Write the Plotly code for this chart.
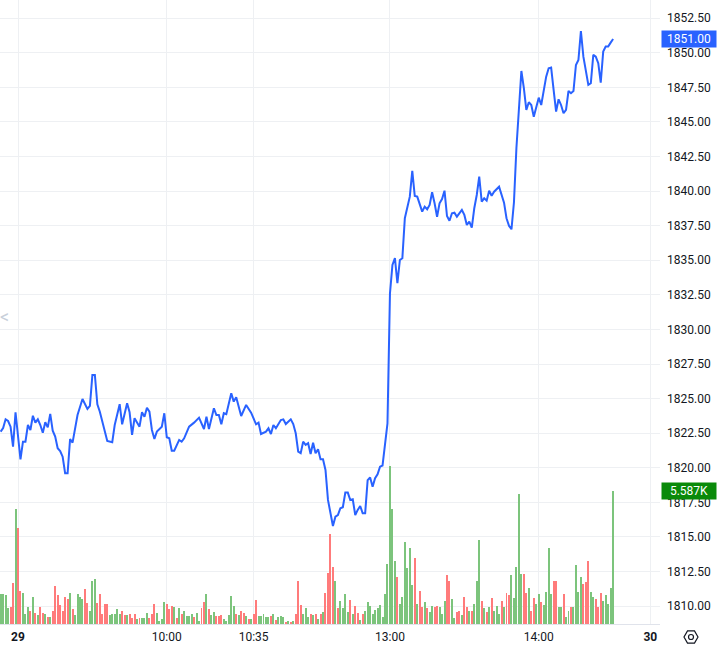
import plotly.graph_objects as go

# 1-minute bars, x = minutes since the 09:00 open of the 29th (lunch gap removed)
price_points = [
    (-7, 1822.61), (-6, 1822.87), (-5, 1823.50), (-4, 1823.38), (-3, 1822.97), (-2, 1821.52),
    (-1, 1824.01), (0, 1822.01), (1, 1820.61), (2, 1821.88), (3, 1821.88), (4, 1823.09),
    (5, 1822.73), (6, 1823.76), (7, 1823.26), (8, 1823.50), (9, 1823.09), (10, 1822.53),
    (11, 1823.29), (12, 1822.92), (13, 1823.89), (14, 1822.68), (15, 1822.25), (16, 1821.41),
    (17, 1821.21), (18, 1820.80), (19, 1819.60), (20, 1819.60), (21, 1822.08), (22, 1821.81),
    (24, 1823.81), (26, 1824.97), (28, 1824.25), (29, 1824.47), (30, 1826.71), (31, 1826.71),
    (32, 1824.59), (33, 1824.05), (34, 1823.38), (36, 1821.93), (38, 1821.84), (39, 1823.09),
    (41, 1824.59), (42, 1823.14), (44, 1824.66), (45, 1824.01), (46, 1822.37), (47, 1823.58),
    (49, 1822.97), (50, 1824.01), (51, 1823.69), (52, 1824.34), (53, 1824.05), (54, 1822.73),
    (55, 1822.08), (56, 1822.61), (58, 1822.97), (59, 1823.94), (60, 1822.20), (61, 1822.13),
    (62, 1821.23), (63, 1821.23), (65, 1822.01), (66, 1821.88), (67, 1822.13), (69, 1822.97),
    (71, 1823.26), (73, 1823.62), (75, 1822.80), (76, 1823.69), (77, 1822.80), (79, 1824.30),
    (80, 1823.81), (81, 1823.81), (82, 1823.14), (83, 1823.94), (84, 1823.87), (85, 1824.70),
    (86, 1825.38), (87, 1824.78), (88, 1825.09), (90, 1823.74), (92, 1824.54), (94, 1823.98),
    (96, 1823.14), (97, 1823.26), (98, 1822.44), (100, 1822.61), (101, 1822.85), (102, 1822.44),
    (103, 1823.09), (104, 1822.85), (106, 1823.45), (107, 1823.50), (108, 1823.16), (110, 1823.50),
    (111, 1823.16), (112, 1822.49), (113, 1821.16), (114, 1821.05), (115, 1821.88), (116, 1821.65),
    (117, 1821.77), (118, 1820.99), (119, 1821.81), (120, 1821.05), (121, 1821.33), (122, 1820.61),
    (123, 1820.61), (124, 1819.84), (125, 1817.67), (127, 1815.79), (128, 1816.46), (129, 1816.58),
    (130, 1817.07), (131, 1817.14), (132, 1818.20), (133, 1818.20), (134, 1817.67), (135, 1817.72),
    (136, 1816.58), (137, 1816.95), (138, 1817.23), (139, 1816.71), (140, 1816.71), (141, 1819.10),
    (142, 1819.30), (143, 1818.63), (144, 1819.24), (145, 1819.53), (146, 1820.08), (147, 1820.16),
    (148, 1821.52), (149, 1823.21), (150, 1832.60), (151, 1834.66), (152, 1835.15), (153, 1833.34),
    (154, 1835.02), (155, 1835.15), (156, 1838.04), (157, 1838.88), (158, 1839.60), (159, 1841.46),
    (160, 1839.65), (161, 1839.60), (162, 1839.12), (163, 1838.52), (164, 1838.88), (165, 1838.69),
    (166, 1839.00), (167, 1839.92), (168, 1839.12), (169, 1838.15), (170, 1839.12), (171, 1839.43),
    (172, 1840.03), (173, 1838.20), (174, 1837.86), (175, 1838.40), (176, 1838.44), (177, 1838.15),
    (179, 1838.64), (180, 1838.28), (181, 1837.55), (182, 1837.79), (183, 1837.36), (184, 1838.76),
    (185, 1839.72), (186, 1841.05), (187, 1839.24), (188, 1839.48), (189, 1839.31), (190, 1840.03),
    (191, 1839.67), (192, 1839.96), (194, 1840.32), (195, 1839.72), (196, 1839.17), (197, 1838.04),
    (198, 1837.50), (199, 1837.24), (200, 1839.18), (201, 1843.12), (202, 1845.99), (203, 1848.69),
    (204, 1847.44), (205, 1845.87), (206, 1846.43), (207, 1846.23), (208, 1845.38), (209, 1846.11),
    (210, 1846.76), (211, 1846.23), (212, 1847.32), (213, 1848.28), (214, 1848.88), (215, 1848.93),
    (216, 1847.32), (217, 1845.75), (218, 1846.64), (219, 1846.23), (220, 1845.63), (221, 1845.87),
    (222, 1847.24), (223, 1847.08), (224, 1847.24), (225, 1849.12), (226, 1849.48), (227, 1851.58),
    (228, 1849.72), (229, 1848.64), (230, 1847.68), (231, 1847.80), (232, 1849.85), (233, 1849.72),
    (234, 1849.25), (235, 1847.84), (236, 1850.09), (237, 1850.45), (238, 1850.45), (239, 1850.74),
    (240, 1851.00),
]

# volume per bar, bars -7 .. 240
volume = [
    1235, 1264, 1193, 661, 703, 1708, 4792, 3997, 1373, 1318,
    398, 732, 536, 1151, 452, 356, 691, 452, 398, 285,
    314, 565, 1611, 1193, 816, 565, 1151, 1067, 1318, 636,
    356, 1235, 1122, 1067, 1456, 870, 565, 1820, 1904, 870,
    1235, 398, 858, 858, 356, 398, 398, 619, 398, 565,
    356, 356, 439, 243, 439, 201, 243, 272, 272, 481,
    272, 398, 858, 481, 146, 230, 900, 858, 619, 774,
    691, 272, 649, 398, 565, 326, 326, 439, 285, 481,
    146, 649, 900, 1276, 619,
    356, 494, 326, 343, 356, 230, 105, 356, 1163, 745,
    398, 356, 565, 481, 326, 230, 230, 398, 1025, 326,
    326, 398, 285, 285, 326, 398, 188, 285, 326, 285,
    63, 105, 63, 105, 398, 1820, 816, 398, 649, 285,
    439, 356, 439, 201, 398, 523, 1318, 2155, 3746, 2406,
    1820, 649, 954, 649, 1276, 523, 1025, 398, 745, 452,
    188, 439, 565, 900, 745, 398, 607, 649, 816, 285,
    1235, 2532, 6633, 4792, 2616, 1988, 858, 1151, 3411, 2323,
    3160, 1653, 2783,
    858, 1402, 691, 900, 649, 523, 774, 691, 774, 732,
    398, 983, 2030, 1779, 1067, 272, 523, 565, 356, 1151,
    732, 565, 565, 858, 1820, 3536, 942, 649, 523, 691,
    1109, 565, 774, 439, 983, 691, 1318, 1193, 2030, 1109,
    2406, 5420, 2072, 2072, 1318, 1486, 565, 1109, 858, 1276,
    900, 816, 1360, 3160, 1276, 1779, 1779, 732, 691, 1276,
    314, 565, 691, 691, 2490, 1360, 1988, 1695, 1737, 2616,
    1360, 1151, 1067, 691, 1318, 942, 1193, 858, 1486, 5587,
]
# G = up bar, R = down bar
volume_dir = (
    "GGGGRRGRRG" "GGRGRGRRGR" "GRRRRRRRGR" "GGGGRRGGGR" "RRRRGGGGGR"
    "RGRRRGRGGG" "RRRGGGGRRR" "GRGRGGGGRG" "GRRGR"
    "GGRRRGGGGG" "RGRRGRGRRG" "GGGGRGRGGG" "RGRGRRRGGG" "RGRGRGRRRR"
    "GRGGGGRGRR" "GRGGGGGGGG" "GGGGGRGGGG" "GGR"
    "GRRGRGGRRG" "GGRRGGRRGR" "RGRGGGRGRG" "RGGGRGRRGG" "GGGRRGRRGG"
    "RGGGGRRGGR" "GGRGGGGRRR" "GGRRRGGGGG"
)
first_bar = -7

tick_pos = [0, 60, 95, 150, 210, 255]
tick_text = ["<b>29</b>", "10:00", "10:35", "13:00", "14:00", "<b>30</b>"]
price_ticks = [1810 + 2.5 * i for i in range(18)]

px_idx = [p[0] for p in price_points]
px_val = [p[1] for p in price_points]
vol_x = list(range(first_bar, first_bar + len(volume)))
vol_colors = ["#7cc47c" if d == "G" else "#ff7b7b" for d in volume_dir]

fig = go.Figure()

fig.add_trace(go.Bar(
    x=vol_x, y=volume, width=0.4,
    marker=dict(color=vol_colors, line_width=0),
    yaxis="y", hoverinfo="skip",
))

fig.add_trace(go.Scatter(
    x=px_idx, y=px_val, mode="lines",
    line=dict(color="#2962ff", width=2),
    yaxis="y2", hoverinfo="skip",
))

font = dict(family="Roboto, Arial, sans-serif", size=12, color="#131722")

fig.update_layout(
    width=721, height=650,
    margin=dict(l=0, r=61, t=0, b=26),
    paper_bgcolor="white", plot_bgcolor="white",
    showlegend=False, bargap=0,
    font=font,
    xaxis=dict(
        range=[-7.26, 258.9], tickvals=tick_pos, ticktext=tick_text,
        showgrid=True, gridcolor="#eef0f3", gridwidth=1,
        zeroline=False, showline=True, linecolor="#e0e3eb", linewidth=1,
        ticks="", ticklabelstandoff=2, tickfont=font,
    ),
    yaxis=dict(range=[0, 26114], visible=False, fixedrange=True),
    yaxis2=dict(
        overlaying="y", side="right", range=[1808.70, 1853.82],
        tickvals=price_ticks, tickformat=".2f",
        showgrid=True, gridcolor="#eef0f3", gridwidth=1,
        zeroline=False, showline=False, ticks="", ticklabelstandoff=6,
        tickfont=font,
    ),
)

# last price and last volume labels on the scale
fig.add_annotation(
    x=1, xref="paper", xanchor="left", xshift=1,
    y=px_val[-1], yref="y2", yanchor="middle",
    text=f"{px_val[-1]:.2f}", showarrow=False,
    bgcolor="#2962ff", font=dict(family=font["family"], size=12, color="white"),
    width=52, height=14, borderpad=1, align="center",
)
fig.add_annotation(
    x=1, xref="paper", xanchor="left", xshift=1,
    y=volume[-1], yref="y", yanchor="middle",
    text=f"{volume[-1] / 1000:.3f}K", showarrow=False,
    bgcolor="#0a8a0a", font=dict(family=font["family"], size=12, color="white"),
    width=52, height=14, borderpad=1, align="center",
)

# little chevron on the left edge
fig.add_annotation(
    x=0, xref="paper", xanchor="left", xshift=-2,
    y=0.492, yref="paper", text="<", showarrow=False,
    font=dict(family=font["family"], size=18, color="#c8cfda"),
)

# settings gear at bottom right
fig.add_shape(
    type="path", xref="paper", yref="paper", xsizemode="pixel", ysizemode="pixel",
    xanchor=1, yanchor=0,
    path="M 38 -13 L 34.5 -6.9 L 27.5 -6.9 L 24 -13 L 27.5 -19.1 L 34.5 -19.1 Z",
    line=dict(color="#131722", width=1.2),
)
fig.add_shape(
    type="circle", xref="paper", yref="paper", xsizemode="pixel", ysizemode="pixel",
    xanchor=1, yanchor=0, x0=28.5, x1=33.5, y0=-15.5, y1=-10.5,
    line=dict(color="#131722", width=1.2),
)

fig.write_html(
    "out.html",
    config={"displayModeBar": False},
    post_script="document.body.style.margin='0';document.body.style.padding='0';",
)
